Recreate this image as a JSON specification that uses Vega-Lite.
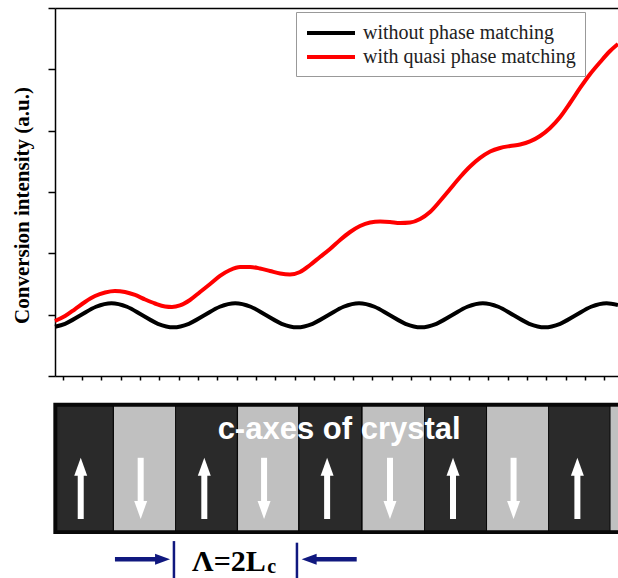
{
  "$schema": "https://vega.github.io/schema/vega-lite/v6.json",
  "padding": {"left": 11, "top": 7, "right": 0, "bottom": 0},
  "config": {"view": {"stroke": null}, "axis": {"grid": false, "domainColor": "#000", "tickColor": "#000"}},
  "datasets": {
    "curves": [
      {"series": "without phase matching", "x": -0.4, "y": 0.802},
      {"series": "without phase matching", "x": 0.12, "y": 0.851},
      {"series": "without phase matching", "x": 0.92, "y": 0.99},
      {"series": "without phase matching", "x": 1.72, "y": 1.129},
      {"series": "without phase matching", "x": 2.52, "y": 1.186},
      {"series": "without phase matching", "x": 3.32, "y": 1.129},
      {"series": "without phase matching", "x": 4.12, "y": 0.99},
      {"series": "without phase matching", "x": 4.92, "y": 0.851},
      {"series": "without phase matching", "x": 5.72, "y": 0.794},
      {"series": "without phase matching", "x": 6.52, "y": 0.851},
      {"series": "without phase matching", "x": 7.32, "y": 0.99},
      {"series": "without phase matching", "x": 8.12, "y": 1.129},
      {"series": "without phase matching", "x": 8.92, "y": 1.186},
      {"series": "without phase matching", "x": 9.72, "y": 1.129},
      {"series": "without phase matching", "x": 10.52, "y": 0.99},
      {"series": "without phase matching", "x": 11.32, "y": 0.851},
      {"series": "without phase matching", "x": 12.12, "y": 0.794},
      {"series": "without phase matching", "x": 12.92, "y": 0.851},
      {"series": "without phase matching", "x": 13.72, "y": 0.99},
      {"series": "without phase matching", "x": 14.52, "y": 1.129},
      {"series": "without phase matching", "x": 15.32, "y": 1.186},
      {"series": "without phase matching", "x": 16.12, "y": 1.129},
      {"series": "without phase matching", "x": 16.92, "y": 0.99},
      {"series": "without phase matching", "x": 17.72, "y": 0.851},
      {"series": "without phase matching", "x": 18.52, "y": 0.794},
      {"series": "without phase matching", "x": 19.32, "y": 0.851},
      {"series": "without phase matching", "x": 20.12, "y": 0.99},
      {"series": "without phase matching", "x": 20.92, "y": 1.129},
      {"series": "without phase matching", "x": 21.72, "y": 1.186},
      {"series": "without phase matching", "x": 22.52, "y": 1.129},
      {"series": "without phase matching", "x": 23.32, "y": 0.99},
      {"series": "without phase matching", "x": 24.12, "y": 0.851},
      {"series": "without phase matching", "x": 24.92, "y": 0.794},
      {"series": "without phase matching", "x": 25.72, "y": 0.851},
      {"series": "without phase matching", "x": 26.52, "y": 0.99},
      {"series": "without phase matching", "x": 27.32, "y": 1.129},
      {"series": "without phase matching", "x": 28.12, "y": 1.186},
      {"series": "without phase matching", "x": 28.71, "y": 1.158},
      {"series": "with quasi phase matching", "x": -0.4, "y": 0.897},
      {"series": "with quasi phase matching", "x": 0.12, "y": 0.978},
      {"series": "with quasi phase matching", "x": 0.64, "y": 1.092},
      {"series": "with quasi phase matching", "x": 1.15, "y": 1.207},
      {"series": "with quasi phase matching", "x": 1.67, "y": 1.304},
      {"series": "with quasi phase matching", "x": 2.19, "y": 1.361},
      {"series": "with quasi phase matching", "x": 2.7, "y": 1.386},
      {"series": "with quasi phase matching", "x": 3.22, "y": 1.37},
      {"series": "with quasi phase matching", "x": 3.74, "y": 1.321},
      {"series": "with quasi phase matching", "x": 4.26, "y": 1.247},
      {"series": "with quasi phase matching", "x": 4.77, "y": 1.182},
      {"series": "with quasi phase matching", "x": 5.29, "y": 1.133},
      {"series": "with quasi phase matching", "x": 5.65, "y": 1.125},
      {"series": "with quasi phase matching", "x": 6.06, "y": 1.15},
      {"series": "with quasi phase matching", "x": 6.58, "y": 1.239},
      {"series": "with quasi phase matching", "x": 7.1, "y": 1.37},
      {"series": "with quasi phase matching", "x": 7.62, "y": 1.5},
      {"series": "with quasi phase matching", "x": 8.13, "y": 1.631},
      {"series": "with quasi phase matching", "x": 8.65, "y": 1.728},
      {"series": "with quasi phase matching", "x": 9.17, "y": 1.777},
      {"series": "with quasi phase matching", "x": 9.69, "y": 1.777},
      {"series": "with quasi phase matching", "x": 10.2, "y": 1.753},
      {"series": "with quasi phase matching", "x": 10.72, "y": 1.712},
      {"series": "with quasi phase matching", "x": 11.24, "y": 1.671},
      {"series": "with quasi phase matching", "x": 11.75, "y": 1.655},
      {"series": "with quasi phase matching", "x": 12.27, "y": 1.696},
      {"series": "with quasi phase matching", "x": 12.79, "y": 1.81},
      {"series": "with quasi phase matching", "x": 13.3, "y": 1.94},
      {"series": "with quasi phase matching", "x": 13.82, "y": 2.071},
      {"series": "with quasi phase matching", "x": 14.34, "y": 2.218},
      {"series": "with quasi phase matching", "x": 14.86, "y": 2.348},
      {"series": "with quasi phase matching", "x": 15.37, "y": 2.446},
      {"series": "with quasi phase matching", "x": 15.89, "y": 2.503},
      {"series": "with quasi phase matching", "x": 16.41, "y": 2.519},
      {"series": "with quasi phase matching", "x": 16.92, "y": 2.511},
      {"series": "with quasi phase matching", "x": 17.44, "y": 2.495},
      {"series": "with quasi phase matching", "x": 17.96, "y": 2.503},
      {"series": "with quasi phase matching", "x": 18.48, "y": 2.56},
      {"series": "with quasi phase matching", "x": 18.99, "y": 2.674},
      {"series": "with quasi phase matching", "x": 19.51, "y": 2.853},
      {"series": "with quasi phase matching", "x": 20.03, "y": 3.049},
      {"series": "with quasi phase matching", "x": 20.55, "y": 3.245},
      {"series": "with quasi phase matching", "x": 21.06, "y": 3.416},
      {"series": "with quasi phase matching", "x": 21.58, "y": 3.555},
      {"series": "with quasi phase matching", "x": 22.1, "y": 3.66},
      {"series": "with quasi phase matching", "x": 22.61, "y": 3.718},
      {"series": "with quasi phase matching", "x": 23.13, "y": 3.75},
      {"series": "with quasi phase matching", "x": 23.65, "y": 3.775},
      {"series": "with quasi phase matching", "x": 24.16, "y": 3.824},
      {"series": "with quasi phase matching", "x": 24.68, "y": 3.913},
      {"series": "with quasi phase matching", "x": 25.2, "y": 4.044},
      {"series": "with quasi phase matching", "x": 25.72, "y": 4.223},
      {"series": "with quasi phase matching", "x": 26.23, "y": 4.451},
      {"series": "with quasi phase matching", "x": 26.75, "y": 4.696},
      {"series": "with quasi phase matching", "x": 27.27, "y": 4.924},
      {"series": "with quasi phase matching", "x": 27.79, "y": 5.12},
      {"series": "with quasi phase matching", "x": 28.3, "y": 5.299},
      {"series": "with quasi phase matching", "x": 28.71, "y": 5.413}
    ],
    "box": [{"x0": -0.486, "x1": 28.71, "y0": 25.3, "y1": 99.0}],
    "blocks": [
      {"x0": -0.28, "x1": 2.585, "y0": 27.4, "y1": 96.8, "kind": "dark"},
      {"x0": 2.65, "x1": 5.807, "y0": 27.4, "y1": 96.8, "kind": "light"},
      {"x0": 5.858, "x1": 8.997, "y0": 27.4, "y1": 96.8, "kind": "dark"},
      {"x0": 9.064, "x1": 12.167, "y0": 27.4, "y1": 96.8, "kind": "light"},
      {"x0": 12.244, "x1": 15.424, "y0": 27.4, "y1": 96.8, "kind": "dark"},
      {"x0": 15.507, "x1": 18.681, "y0": 27.4, "y1": 96.8, "kind": "light"},
      {"x0": 18.733, "x1": 21.887, "y0": 27.4, "y1": 96.8, "kind": "dark"},
      {"x0": 21.939, "x1": 25.093, "y0": 27.4, "y1": 96.8, "kind": "light"},
      {"x0": 25.145, "x1": 28.273, "y0": 27.4, "y1": 96.8, "kind": "dark"},
      {"x0": 28.325, "x1": 28.71, "y0": 27.4, "y1": 96.8, "kind": "light"}
    ],
    "caxes": [
      {"x": 0.93, "dir": "up", "s0": 33.7, "s1": 59.6, "h": 63.1},
      {"x": 4.03, "dir": "down", "s0": 42.7, "s1": 68.1, "h": 38.8},
      {"x": 7.32, "dir": "up", "s0": 33.7, "s1": 59.6, "h": 63.1},
      {"x": 10.41, "dir": "down", "s0": 42.7, "s1": 68.1, "h": 38.8},
      {"x": 13.67, "dir": "up", "s0": 33.7, "s1": 59.6, "h": 63.1},
      {"x": 16.92, "dir": "down", "s0": 42.7, "s1": 68.1, "h": 38.8},
      {"x": 20.18, "dir": "up", "s0": 33.7, "s1": 59.6, "h": 63.1},
      {"x": 23.31, "dir": "down", "s0": 42.7, "s1": 68.1, "h": 38.8},
      {"x": 26.61, "dir": "up", "s0": 33.7, "s1": 59.6, "h": 63.1}
    ],
    "caption": [{"x": 14.29, "y": 78.7, "t": "c-axes of crystal"}],
    "navyArrows": [
      {"x0": 2.7, "x1": 4.85, "hx": 5.16, "y": 11.1, "dir": "right"},
      {"x0": 13.0, "x1": 15.2, "hx": 12.74, "y": 11.1, "dir": "left"}
    ],
    "navyBars": [
      {"x": 5.75, "y0": 0, "y1": 21.3},
      {"x": 12.11, "y0": 0, "y1": 20.4}
    ],
    "lambda": [{"x": 6.69, "y": 4.5, "t": "Λ=2L"}],
    "lambdaSub": [{"x": 10.58, "y": 3.4, "t": "c"}]
  },
  "resolve": {"scale": {"color": "independent", "shape": "independent"}},
  "spacing": 20,
  "vconcat": [
    {
      "width": 563,
      "height": 368,
      "data": {"name": "curves"},
      "encoding": {
        "y": {"field": "y", "type": "quantitative",
              "scale": {"domain": [0, 6], "nice": false, "zero": false},
              "axis": {"orient": "left", "values": [0,1,2,3,4,5,6], "labels": false, "ticks": true, "domain": true,
                       "tickSize": 7, "tickWidth": 1.5, "domainWidth": 1.5,
                       "title": "Conversion intensity (a.u.)", "titleFont": "Liberation Serif", "titleFontSize": 21,
                       "titleFontWeight": "bold", "titleColor": "#000", "titleX": -23, "titleY": 197}},
        "color": {"field": "series", "type": "nominal",
                  "scale": {"domain": ["without phase matching", "with quasi phase matching"], "range": ["#000000", "#ff0000"]},
                  "legend": {"title": null, "orient": "none", "legendX": 241, "legendY": 4, "direction": "vertical",
                             "symbolType": "M -1 0 L 3.8 0", "symbolStrokeWidth": 4, "symbolSize": 400,
                             "labelFont": "Liberation Serif", "labelFontSize": 20, "labelColor": "#222", "labelOffset": 34,
                             "labelLimit": 400, "padding": 9, "rowPadding": 2, "strokeColor": "#999", "fillColor": "#fff"}}
      },
      "layer": [
        {
          "transform": [{"filter": "datum.series === 'without phase matching'"}],
          "mark": {"type": "line", "strokeWidth": 4, "interpolate": "monotone"},
          "encoding": {
            "x": {"field": "x", "type": "quantitative",
                  "scale": {"domain": [-0.4, 28.71], "nice": false, "zero": false},
                  "axis": {"orient": "bottom", "values": [0,1,2,3,4,5,6,7,8,9,10,11,12,13,14,15,16,17,18,19,20,21,22,23,24,25,26,27,28],
                           "labels": false, "tickSize": 4, "tickWidth": 1.5, "domainWidth": 1.5, "title": null}}
          }
        },
        {
          "transform": [{"filter": "datum.series === 'with quasi phase matching'"}],
          "mark": {"type": "line", "strokeWidth": 4, "interpolate": "monotone"},
          "encoding": {
            "x": {"field": "x", "type": "quantitative",
                  "axis": {"orient": "top", "ticks": false, "labels": false, "title": null, "domainWidth": 1.5}}
          }
        }
      ],
      "resolve": {"axis": {"x": "independent"}}
    },
    {
      "width": 563,
      "height": 178,
      "layer": [
        {
          "data": {"name": "box"},
          "mark": {"type": "rect", "color": "#080808"},
          "encoding": {
            "x": {"field": "x0", "type": "quantitative", "scale": {"domain": [-0.4, 28.71], "nice": false, "zero": false}, "axis": null},
            "x2": {"field": "x1"},
            "y": {"field": "y0", "type": "quantitative", "scale": {"domain": [0, 100], "nice": false, "zero": false}, "axis": null},
            "y2": {"field": "y1"}
          }
        },
        {
          "data": {"name": "blocks"},
          "mark": {"type": "rect"},
          "encoding": {
            "x": {"field": "x0", "type": "quantitative"},
            "x2": {"field": "x1"},
            "y": {"field": "y0", "type": "quantitative"},
            "y2": {"field": "y1"},
            "color": {"field": "kind", "type": "nominal", "scale": {"domain": ["dark", "light"], "range": ["#2a2a2a", "#c0c0c0"]}, "legend": null}
          }
        },
        {
          "data": {"name": "caxes"},
          "mark": {"type": "rule", "color": "#ffffff", "strokeWidth": 6},
          "encoding": {
            "x": {"field": "x", "type": "quantitative"},
            "y": {"field": "s0", "type": "quantitative"},
            "y2": {"field": "s1"}
          }
        },
        {
          "data": {"name": "caxes"},
          "mark": {"type": "point", "filled": true, "color": "#ffffff", "opacity": 1, "size": 324, "strokeWidth": 0},
          "encoding": {
            "x": {"field": "x", "type": "quantitative"},
            "y": {"field": "h", "type": "quantitative"},
            "shape": {"field": "dir", "type": "nominal",
                      "scale": {"domain": ["up", "down", "right", "left"],
                                "range": ["M -0.72 1 L 0 -1 L 0.72 1 Z", "M -0.72 -1 L 0 1 L 0.72 -1 Z", "M -1 -0.73 L 1 0 L -1 0.73 Z", "M 1 -0.73 L -1 0 L 1 0.73 Z"]},
                      "legend": null}
          }
        },
        {
          "data": {"name": "caption"},
          "mark": {"type": "text", "color": "#ffffff", "font": "Liberation Sans", "fontWeight": "bold", "fontSize": 31, "align": "center", "baseline": "alphabetic"},
          "encoding": {
            "x": {"field": "x", "type": "quantitative"},
            "y": {"field": "y", "type": "quantitative"},
            "text": {"field": "t", "type": "nominal"}
          }
        },
        {
          "data": {"name": "navyArrows"},
          "mark": {"type": "rule", "color": "#10187f", "strokeWidth": 4.5},
          "encoding": {
            "x": {"field": "x0", "type": "quantitative"},
            "x2": {"field": "x1"},
            "y": {"field": "y", "type": "quantitative"}
          }
        },
        {
          "data": {"name": "navyArrows"},
          "mark": {"type": "point", "filled": true, "color": "#10187f", "opacity": 1, "size": 225, "strokeWidth": 0},
          "encoding": {
            "x": {"field": "hx", "type": "quantitative"},
            "y": {"field": "y", "type": "quantitative"},
            "shape": {"field": "dir", "type": "nominal", "legend": null}
          }
        },
        {
          "data": {"name": "navyBars"},
          "mark": {"type": "rule", "color": "#10187f", "strokeWidth": 2.5},
          "encoding": {
            "x": {"field": "x", "type": "quantitative"},
            "y": {"field": "y0", "type": "quantitative"},
            "y2": {"field": "y1"}
          }
        },
        {
          "data": {"name": "lambda"},
          "mark": {"type": "text", "color": "#000", "font": "Liberation Serif", "fontWeight": "bold", "fontSize": 30, "align": "left", "baseline": "alphabetic"},
          "encoding": {
            "x": {"field": "x", "type": "quantitative"},
            "y": {"field": "y", "type": "quantitative"},
            "text": {"field": "t", "type": "nominal"}
          }
        },
        {
          "data": {"name": "lambdaSub"},
          "mark": {"type": "text", "color": "#000", "font": "Liberation Serif", "fontWeight": "bold", "fontSize": 20, "align": "left", "baseline": "alphabetic"},
          "encoding": {
            "x": {"field": "x", "type": "quantitative"},
            "y": {"field": "y", "type": "quantitative"},
            "text": {"field": "t", "type": "nominal"}
          }
        }
      ]
    }
  ]
}
